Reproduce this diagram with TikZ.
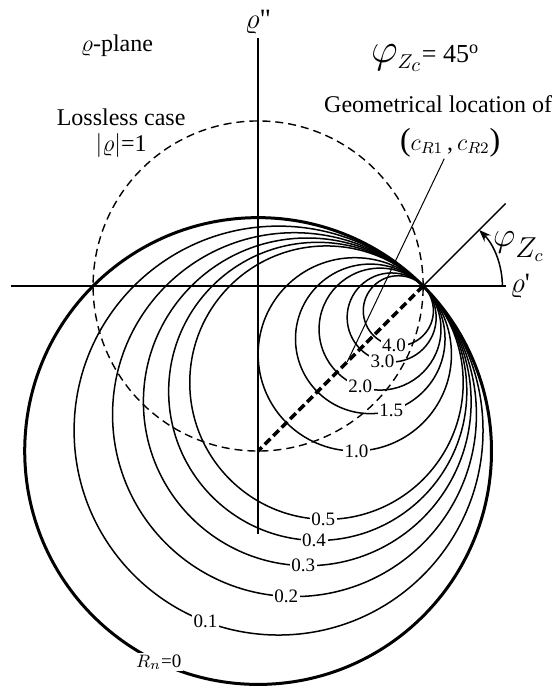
\documentclass[tikz,border=0pt]{standalone}
\usepackage{amsmath,amssymb}
\usepackage{fontspec}
\setmainfont{Liberation Serif}
\usetikzlibrary{calc,angles,quotes,arrows.meta}
\newcommand{\bigpar}[1]{{\fontsize{16}{17}\selectfont#1}}

\begin{document}
\begin{tikzpicture}[x=82.5pt, y=82.5pt, line width=0.75pt,
    rcircle/.style={line width=0.75pt},
    rlabel/.style={fill=white, inner sep=0.8pt, font=\fontsize{9.5}{11}\selectfont},
    txt/.style={font=\fontsize{12}{14}\selectfont, inner sep=0.5pt}]
    \useasboundingbox (-1.564,-2.442) rectangle (1.794,1.733);
    \coordinate (O) at (0,0);
    \coordinate (T) at (1,0);
    \coordinate (C) at (0,-1);
    \coordinate (X) at (1.5,0);
    \coordinate (E) at (1.5,0.5);
    \draw[line width=0.7pt, dash pattern=on 4pt off 2.5pt] (O) circle (1);
    \draw (-1.5,0) -- (X) node[right, txt, font=\fontsize{14}{16}\selectfont, inner sep=2pt] (xl)
        {$\varrho$\textquotesingle};
    \draw (0,-1.5) -- (0,1.5) node[above, txt, font=\fontsize{14}{16}\selectfont, inner sep=2pt] (yl)
        {$\varrho$\textquotedbl};
    \draw[line width=1.5pt] (C) circle ({sqrt(2)});
    \node[rlabel] (lab0) at ($(C)+(-115.2:{sqrt(2)})$) {$R_n$=0};
    \foreach \R/\a/\t [count=\i] in {0.1/-110.9/0.1, 0.2/-92.6/0.2, 0.3/-91.4/0.3,
        0.4/-91.4/0.4, 0.5/-91.4/0.5, 1/-89/1.0, 1.5/-73.7/1.5, 2/-109/2.0,
        3/-102/3.0, 4/-97/4.0} {
        \pgfmathsetmacro{\r}{1/(\R+cos(45))}
        \draw[rcircle] ($(T)+(225:\r)$) circle (\r);
        \node[rlabel] (lab\i) at ($(T)+(225:\r)+(\a:\r)$) {\t};
    }
    \draw[line width=1.8pt, dash pattern=on 4pt off 2pt] (T) -- (C);
    \draw (T) -- (E);
    \pic[draw, line width=0.75pt, -{Stealth[length=6pt,width=4.5pt]},
         angle radius=39.6pt] {angle = X--T--E};
    \node[inner sep=0pt] (phi) at (1.58,0.24)
        {\fontsize{19}{22}\selectfont$\varphi_{\raisebox{-3pt}{$\scriptstyle Z_c$}}$};
    \node[txt] (plane) at (-0.855,1.455) {$\varrho$-plane};
    \node[txt, font=\fontsize{13}{15}\selectfont] (phiz) at (1.012,1.38)
        {{\fontsize{20}{22}\selectfont$\varphi_{\scriptscriptstyle Z_c}$}= 45\textsuperscript{o}};
    \node[txt] (geo) at (1.091,1.10) {Geometrical location of};
    \node[txt] (cr) at (1.164,0.87) {\bigpar{(}$c_{R1}$\,,\,$c_{R2}$\bigpar{)}};
    \node[txt] (loss) at (-0.83,1.024) {Lossless case};
    \node[txt] (abs) at (-0.83,0.85) {$|\varrho|$=1};
    \coordinate (foot) at (0.54,-0.46);
    \draw[line width=0.5pt] (cr.250) -- (foot);
\end{tikzpicture}
\end{document}
